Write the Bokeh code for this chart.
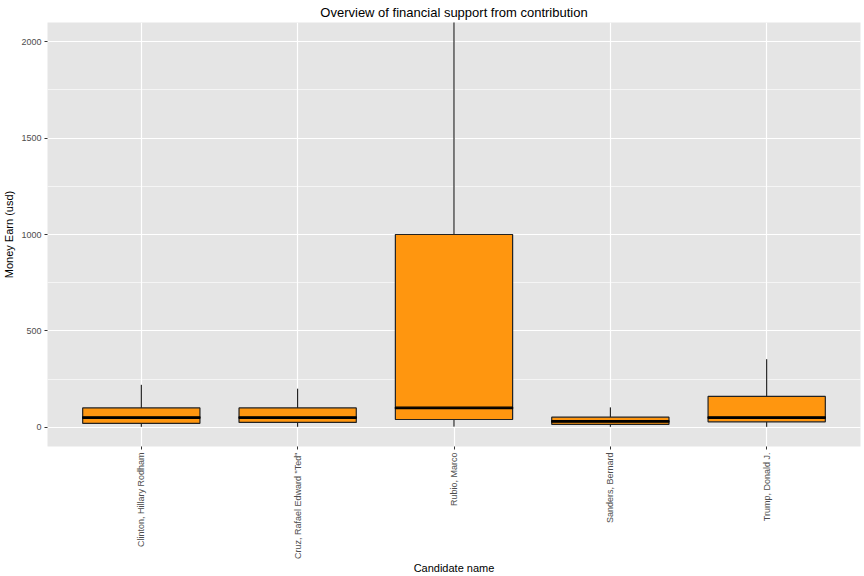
import math
from bokeh.plotting import figure
from bokeh.models import FactorRange, Range1d, SingleIntervalTicker, ColumnDataSource
from bokeh.embed import file_html
from bokeh.resources import INLINE

candidates = ["Clinton, Hillary Rodham", 'Cruz, Rafael Edward "Ted"', "Rubio, Marco",
              "Sanders, Bernard", "Trump, Donald J."]
whisker_low = [2, 2, 3, 2, 2]
q1 = [20, 25, 40, 15, 28]
median = [50, 50, 100, 30, 50]
q3 = [100, 100, 1000, 52, 160]
whisker_high = [220, 200, 2700, 103, 353]

FONT = "Liberation Sans"

xr = FactorRange(*candidates)
xr.range_padding = 0.1
xr.range_padding_units = "absolute"
xr.factor_padding = 0.0

p = figure(width=864, height=576, x_range=xr,
           y_range=Range1d(-100, 2100), output_backend="svg", toolbar_location=None,
           title="Overview of financial support from contribution",
           x_axis_label="Candidate name", y_axis_label="Money Earn (usd)",
           min_border_left=45, min_border_right=4, min_border_top=22, min_border_bottom=124)

src = ColumnDataSource(dict(x=candidates, lo=whisker_low, q1=q1, med=median, q3=q3, hi=whisker_high))

p.segment(x0="x", y0="q3", x1="x", y1="hi", source=src, line_color="black", line_width=1)
p.segment(x0="x", y0="lo", x1="x", y1="q1", source=src, line_color="black", line_width=1)
p.vbar(x="x", bottom="q1", top="q3", width=0.75, source=src, fill_color="#FF960F",
       line_color="#222222", line_width=1.2)
p.rect(x="x", y="med", width=0.75, height=1.5, height_units="screen", source=src,
       fill_color="black", line_color="black", line_width=1.2)

p.background_fill_color = "#e5e5e5"
p.border_fill_color = "white"
p.outline_line_color = None

p.title.align = "center"
p.title.text_font = FONT
p.title.text_font_size = "13px"
p.title.text_font_style = "normal"
p.title.text_color = "black"
p.title.standoff = 5

p.yaxis.ticker = SingleIntervalTicker(interval=500, num_minor_ticks=2)
p.ygrid.grid_line_color = "white"
p.ygrid.grid_line_width = 1.2
p.ygrid.minor_grid_line_color = "white"
p.ygrid.minor_grid_line_width = 0.6
p.xgrid.grid_line_color = "white"
p.xgrid.grid_line_width = 1.2

for ax in (p.xaxis, p.yaxis):
    ax.axis_line_color = None
    ax.major_tick_line_color = "#333333"
    ax.major_tick_in = 0
    ax.major_tick_out = 3
    ax.minor_tick_line_color = None
    ax.major_label_text_font = FONT
    ax.major_label_text_font_size = "9px"
    ax.major_label_text_color = "#4d4d4d"
    ax.axis_label_text_font = FONT
    ax.axis_label_text_font_size = "11px"
    ax.axis_label_text_font_style = "normal"
    ax.axis_label_text_color = "black"

p.xaxis.major_label_orientation = math.pi / 2
p.yaxis.major_label_standoff = 2
p.xaxis.major_label_standoff = 3
p.yaxis.axis_label_standoff = 3
p.xaxis.axis_label_standoff = 0

open("out.html", "w").write(file_html(p, INLINE))
